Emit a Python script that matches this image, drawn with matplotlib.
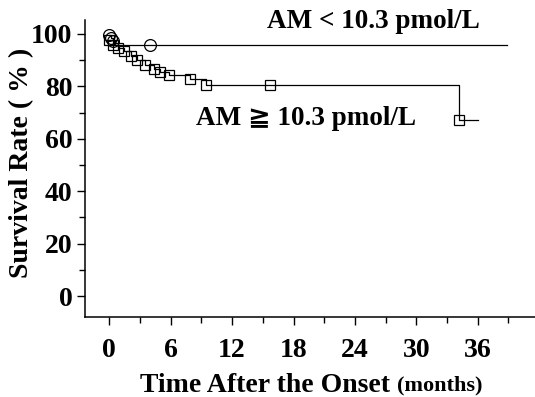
import matplotlib
matplotlib.use("Agg")
import matplotlib.pyplot as plt
from matplotlib.ticker import MultipleLocator

# survival curve, AM < 10.3 pmol/L (step vertices + censor marks)
low_t = [0, 0.2, 0.4, 0.6, 38.9]
low_s = [99.7, 98.5, 97.4, 95.8, 95.8]
low_cens_t = [0, 0.2, 0.4, 4.0]
low_cens_s = [99.7, 98.5, 97.4, 95.8]

# survival curve, AM >= 10.3 pmol/L
high_t = [0, 0.4, 0.8, 1.4, 2.1, 2.7, 3.5, 4.4, 5.0, 5.8, 7.9, 9.4, 15.7, 34.2, 36.0]
high_s = [97.6, 95.9, 94.7, 93.4, 91.7, 90.2, 88.1, 86.8, 85.5, 84.4, 82.8, 80.5, 80.5, 67.2, 67.2]
high_cens_t = high_t[:-1]
high_cens_s = high_s[:-1]

x_ticks = [0, 6, 12, 18, 24, 30, 36]
y_ticks = [0, 20, 40, 60, 80, 100]

serif = ["Liberation Serif", "DejaVu Serif", "DejaVu Sans"]
plt.rcParams["font.family"] = serif
plt.rcParams["font.weight"] = "bold"

fig = plt.figure(figsize=(5.35, 3.97), dpi=100)
ax = fig.add_axes([0.159, 0.2015, 0.841, 0.748])

ax.step(low_t, low_s, where="post", color="black", lw=0.9)
ax.plot(low_cens_t, low_cens_s, ls="none", marker="o", ms=8.5,
        mfc="none", mec="black", mew=0.9)

ax.step(high_t, high_s, where="post", color="black", lw=0.9)
ax.plot(high_cens_t, high_cens_s, ls="none", marker="s", ms=6.5,
        mfc="none", mec="black", mew=0.9)

ax.text(25.8, 104.6, "AM < 10.3 pmol/L", ha="center", va="center",
        fontsize=19.5, fontweight="bold")
ax.text(19.2, 67.9, "AM \u2267 10.3 pmol/L", ha="center", va="center",
        fontsize=19.5, fontweight="bold", family=serif)

ax.set_xlim(-2.37, 41.6)
ax.set_ylim(-8.0, 105.3)
ax.set_xticks(x_ticks)
ax.set_yticks(y_ticks)
ax.xaxis.set_minor_locator(MultipleLocator(3))
ax.yaxis.set_minor_locator(MultipleLocator(10))
ax.tick_params(which="major", direction="out", length=6, width=1,
               labelsize=20)
ax.tick_params(axis="x", which="major", pad=9)
ax.tick_params(axis="y", which="major", pad=3)
ax.tick_params(which="minor", direction="out", length=4, width=1)
for lab in ax.get_xticklabels() + ax.get_yticklabels():
    lab.set_fontweight("bold")

ax.spines["top"].set_visible(False)
ax.spines["right"].set_visible(False)
ax.spines["left"].set_linewidth(1.1)
ax.spines["bottom"].set_linewidth(1.1)

ax.set_ylabel("Survival Rate ( % )", fontsize=20, fontweight="bold",
              va="center")
ax.yaxis.set_label_coords(-0.14, 0.52)

fig.text(390 / 535, 1 - 385 / 397, "Time After the Onset", ha="right",
         va="center", fontsize=20, fontweight="bold")
fig.text(397 / 535, 1 - 385 / 397, "(months)", ha="left",
         va="center", fontsize=16, fontweight="bold")

fig.savefig("out.png", dpi=100, facecolor="white")
